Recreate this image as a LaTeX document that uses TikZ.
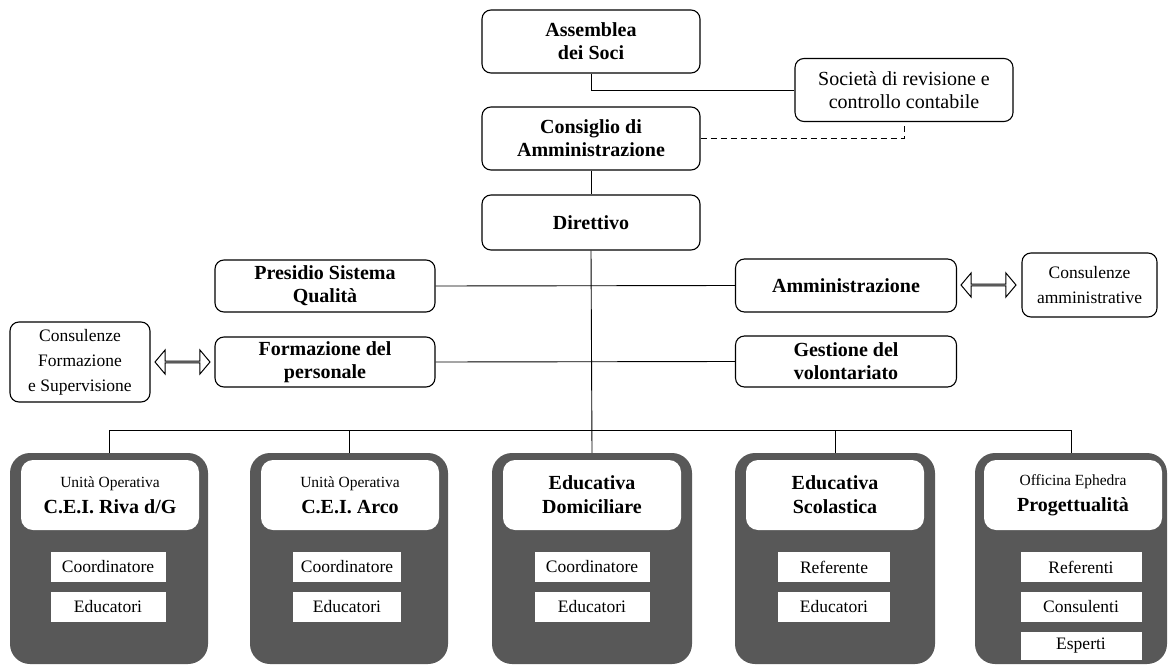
\documentclass[tikz,border=0pt]{standalone}
\usepackage{fontspec}
\setmainfont{Liberation Serif}
\usetikzlibrary{shapes.arrows}

\definecolor{unitgray}{RGB}{88,88,88}

\tikzset{
  orgbox/.style={draw, line width=1.1pt, rounded corners=9pt, align=center,
    inner sep=0pt, font=\fontsize{20}{23}\selectfont\bfseries},
  topbox/.style={orgbox, minimum width=218pt, minimum height=63pt},
  midbox/.style={orgbox, minimum width=221pt, minimum height=51pt},
  consbox/.style={orgbox, font=\fontsize{17.5}{25}\selectfont},
  twoway/.style={double arrow, draw, line width=1pt, fill=white, inner sep=0pt,
    minimum height=55pt, minimum width=24pt, double arrow head extend=7pt,
    double arrow head indent=0pt, double arrow tip angle=100},
  unitbox/.style={fill=unitgray, rounded corners=20pt, minimum height=211pt, inner sep=0pt},
  unithead/.style={fill=white, rounded corners=12pt, minimum width=178pt,
    minimum height=70pt, inner sep=0pt, align=center,
    font=\fontsize{20}{24}\selectfont},
  rolebox/.style={fill=white, minimum height=30pt, inner sep=0pt,
    font=\fontsize{17.5}{20}\selectfont},
  link/.style={line width=0.9pt},
}

\newcommand{\smallhead}[1]{{\fontsize{15.5}{18}\selectfont #1}}

\begin{document}
\begin{tikzpicture}[x=1pt, y=-1pt]
\useasboundingbox (0,0) rectangle (1169,666);

% governing bodies
\node[topbox] (assemblea) at (591,41.5) {Assemblea\\dei Soci};
\node[topbox, font=\fontsize{20}{23}\selectfont] (societa) at (904,90) {Società di revisione e\\controllo contabile};
\node[topbox] (consiglio) at (591,138.5) {Consiglio di\\Amministrazione};
\node[topbox, minimum height=55pt] (direttivo) at (591,222.5) {Direttivo};

% staff functions
\node[midbox, minimum width=220pt, minimum height=52pt] (presidio) at (325,286) {Presidio Sistema\\Qualità};
\node[midbox, minimum width=220pt, minimum height=50pt] (formazione) at (325,362) {Formazione del\\personale};
\node[midbox, minimum height=53pt] (amministrazione) at (846,285.5) {Amministrazione};
\node[midbox] (gestione) at (846,361.5) {Gestione del\\volontariato};

% external consultancy
\node[consbox, minimum width=135pt, minimum height=64pt] (consamm) at (1089.5,285) {Consulenze\\amministrative};
\node[consbox, minimum width=140pt, minimum height=80pt] (consform) at (80,362) {Consulenze\\Formazione\\e Supervisione};
\node[twoway] (arrA) at (988.5,285) {};
\node[twoway] (arrF) at (182.5,362) {};

% operating units
\node[unitbox, minimum width=198pt] (u1) at (109,558.5) {};
\node[unitbox, minimum width=198pt] (u2) at (349,558.5) {};
\node[unitbox, minimum width=200pt] (u3) at (592,558.5) {};
\node[unitbox, minimum width=200pt] (u4) at (835,558.5) {};
\node[unitbox, minimum width=192pt] (u5) at (1071,558.5) {};

\node[unithead] (h1) at (110,495) {\smallhead{Unità Operativa}\\[2pt]\textbf{C.E.I. Riva d/G}};
\node[unithead] (h2) at (350,495) {\smallhead{Unità Operativa}\\[2pt]\textbf{C.E.I. Arco}};
\node[unithead] (h3) at (592,495) {\textbf{Educativa}\\\textbf{Domiciliare}};
\node[unithead] (h4) at (835,495) {\textbf{Educativa}\\\textbf{Scolastica}};
\node[unithead] (h5) at (1073,495) {\smallhead{Officina Ephedra}\\[2pt]\textbf{Progettualità}};

\node[rolebox, minimum width=115pt] (r1a) at (108,567) {Coordinatore};
\node[rolebox, minimum width=115pt] (r1b) at (108,607) {Educatori};
\node[rolebox, minimum width=108pt] (r2a) at (347,567) {Coordinatore};
\node[rolebox, minimum width=108pt] (r2b) at (347,607) {Educatori};
\node[rolebox, minimum width=115pt] (r3a) at (592,567) {Coordinatore};
\node[rolebox, minimum width=115pt] (r3b) at (592,607) {Educatori};
\node[rolebox, minimum width=112pt] (r4a) at (834,567) {Referente};
\node[rolebox, minimum width=112pt] (r4b) at (834,607) {Educatori};
\node[rolebox, minimum width=121pt] (r5a) at (1081,567) {Referenti};
\node[rolebox, minimum width=121pt] (r5b) at (1081,607) {Consulenti};
\node[rolebox, minimum width=121pt, minimum height=28pt] (r5c) at (1081,646) {Esperti};

% connectors
\draw[link] (assemblea.south) |- (societa.west);
\draw[link, dashed, dash pattern=on 6pt off 4pt] (consiglio.east) -| (societa.south);
\draw[link] (consiglio) -- (direttivo);
\draw[link] (presidio.east) -- (amministrazione.west);
\draw[link] (formazione.east) -- (gestione.west);
\coordinate (bus) at (592,430);
\draw[link] (direttivo.south) -- (u3.north);
\draw[link] (u1.north) -- (u1.north |- bus) -- (u5.north |- bus) -- (u5.north);
\draw[link] (u2.north) -- (u2.north |- bus);
\draw[link] (u4.north) -- (u4.north |- bus);
\end{tikzpicture}
\end{document}
